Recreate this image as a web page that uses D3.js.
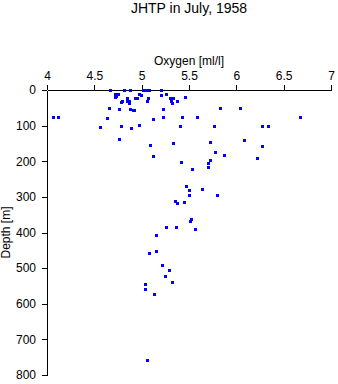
<!DOCTYPE html>
<html>
<head>
<meta charset="utf-8">
<script src="https://cdn.jsdelivr.net/npm/d3@7"></script>
<style>
  html, body { margin: 0; padding: 0; background: #fff; }
  svg { display: block; font-family: "Liberation Sans", Arial, sans-serif; }
</style>
</head>
<body>
<div id="chart"></div>
<script>
const titleText = "JHTP in July, 1958";
const xLabel = "Oxygen [ml/l]";
const yLabel = "Depth [m]";
const xTicks = [4, 4.5, 5, 5.5, 6, 6.5, 7];
const yTicks = [0, 100, 200, 300, 400, 500, 600, 700, 800];

const oxygen = [
  4.665, 4.816, 4.876, 5.014, 5.045, 5.077, 5.204,
  4.721, 4.753, 4.718, 4.732, 4.792, 4.781, 4.848, 4.842, 4.866, 4.869,
  4.932, 4.947, 4.968, 4.989, 5.059, 5.070, 5.207, 5.260, 5.299, 5.327,
  5.313, 5.320, 5.376, 5.460,
  4.658, 4.763, 4.876, 4.905, 4.922, 5.228, 5.830, 6.041,
  4.067, 4.116, 4.637, 5.119, 5.228, 5.429, 5.587, 6.672,
  4.563, 4.785, 4.890, 4.975, 5.408, 5.767, 6.270, 6.339,
  4.763, 5.088, 5.334, 5.721, 6.080, 6.270,
  5.119, 5.777, 5.869, 6.221, 5.418, 5.724, 5.700, 5.534, 5.700,
  5.471, 5.503, 5.640, 5.798, 5.499, 5.355, 5.378, 5.450,
  5.517, 5.513, 5.260, 5.365, 5.566, 5.156, 5.154, 5.079,
  5.218, 5.288, 5.249, 5.317, 5.038, 5.038, 5.130, 5.059
];
const depth = [
  0, 0, 0, 0, 0, 0, 0,
  12, 12, 20.5, 16, 30, 33, 22.5, 31.7, 31.7, 37.3,
  23.3, 22.5, 12, 15, 31.7, 22.5, 14, 12, 23.3, 23,
  30.3, 37.3, 31.7, 20,
  51.4, 53.3, 52, 57.5, 57, 53.3, 51.4, 51.4,
  76.6, 76.6, 79.4, 82.2, 76.6, 76.6, 76.6, 76.6,
  104.7, 101.9, 107.5, 99.1, 101.9, 101.9, 101.9, 101.9,
  138.4, 154.4, 148.8, 146.8, 140.4, 158,
  185.3, 173.2, 181.6, 190, 203, 197.3, 205.8, 221.8, 217,
  270.3, 280, 278.7, 293.9, 295.6, 311.6, 318, 315.2,
  363, 368.6, 385.4, 385.4, 391, 407.9, 452.8, 458.4,
  492.1, 505.3, 523, 539.8, 545.4, 559.4, 573.5, 757
];

const W = 338, H = 384;
const mLeft = 47, mRight = 331, mTop = 90, mBottom = 375;

const svg = d3.select("#chart").append("svg")
  .attr("width", W).attr("height", H);

const x = d3.scaleLinear().domain([4, 7]).range([mLeft, mRight]);
const y = d3.scaleLinear().domain([0, 800]).range([mTop, mBottom]);

// title
svg.append("text")
  .attr("x", (mLeft + mRight) / 2).attr("y", 13)
  .attr("text-anchor", "middle")
  .attr("font-size", 14)
  .attr("fill", "#000")
  .text(titleText);

// x axis (top)
const xAxis = svg.append("g")
  .attr("transform", `translate(0,${mTop})`)
  .call(d3.axisTop(x).tickValues(xTicks).tickFormat(d3.format("")).tickSize(5).tickSizeOuter(0).tickPadding(5.5));
xAxis.selectAll("text").attr("font-size", 12).attr("font-family", "Liberation Sans, Arial, sans-serif").attr("fill", "#000");

// y axis (left)
const yAxis = svg.append("g")
  .attr("transform", `translate(${mLeft},0)`)
  .call(d3.axisLeft(y).tickValues(yTicks).tickSize(5).tickSizeOuter(0).tickPadding(6));
yAxis.selectAll("text").attr("font-size", 12).attr("font-family", "Liberation Sans, Arial, sans-serif").attr("fill", "#000");

svg.selectAll(".domain, .tick line").attr("stroke", "#000").attr("shape-rendering", "crispEdges");

// axis labels
svg.append("text")
  .attr("x", (mLeft + mRight) / 2).attr("y", 64.5)
  .attr("text-anchor", "middle")
  .attr("font-size", 12)
  .attr("fill", "#000")
  .text(xLabel);

svg.append("text")
  .attr("transform", `translate(9.5,${(mTop + mBottom) / 2}) rotate(-90)`)
  .attr("text-anchor", "middle")
  .attr("font-size", 12)
  .attr("fill", "#000")
  .text(yLabel);

// points
const pts = oxygen.map((o, i) => ({ o, d: depth[i] }));
svg.append("g").selectAll("rect")
  .data(pts).enter().append("rect")
  .attr("x", d => Math.round(x(d.o)) - 1.5)
  .attr("y", d => Math.round(y(d.d)) - 1.5)
  .attr("width", 3).attr("height", 3)
  .attr("fill", "#0000ff")
  .attr("shape-rendering", "crispEdges");
</script>
</body>
</html>
